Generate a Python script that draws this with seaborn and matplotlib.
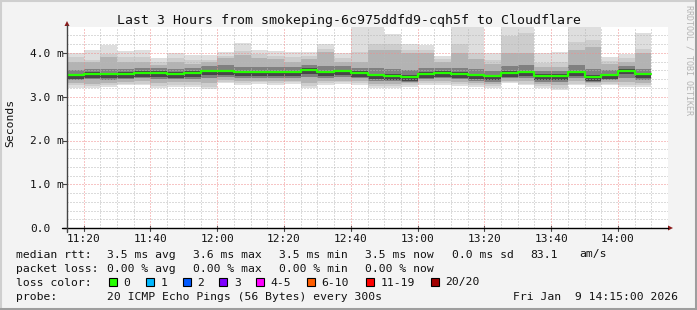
import numpy as np
import pandas as pd
import matplotlib
matplotlib.use("Agg")
import matplotlib.pyplot as plt
import seaborn as sns
from matplotlib import transforms
from matplotlib.lines import Line2D
from matplotlib.patches import Rectangle, Polygon

# ---------------- data (ms) ----------------
bucket_start = ["11:15", "11:20", "11:25", "11:30", "11:35", "11:40", "11:45", "11:50", "11:55",
                "12:00", "12:05", "12:10", "12:15", "12:20", "12:25", "12:30", "12:35", "12:40",
                "12:45", "12:50", "12:55", "13:00", "13:05", "13:10", "13:15", "13:20", "13:25",
                "13:30", "13:35", "13:40", "13:45", "13:50", "13:55", "14:00", "14:05"]
median = [3.50, 3.53, 3.51, 3.53, 3.55, 3.55, 3.53, 3.55, 3.59, 3.59, 3.57, 3.57, 3.57, 3.56, 3.62,
          3.57, 3.59, 3.55, 3.50, 3.48, 3.46, 3.53, 3.55, 3.53, 3.50, 3.47, 3.55, 3.57, 3.48, 3.48,
          3.57, 3.46, 3.50, 3.60, 3.51]
ping_max = [3.99, 4.07, 4.19, 4.05, 4.07, 3.88, 3.99, 3.95, 3.95, 4.02, 4.22, 4.08, 4.05, 4.03, 4.02,
            4.20, 4.01, 4.60, 4.60, 4.43, 4.20, 4.18, 3.93, 4.60, 4.60, 3.99, 4.60, 4.60, 3.99, 4.02,
            4.60, 4.60, 3.92, 3.97, 4.45]
ping_p90 = [3.90, 3.85, 3.97, 3.92, 3.90, 3.80, 3.88, 3.85, 3.85, 3.93, 4.05, 3.97, 3.93, 3.90, 3.93,
            4.10, 3.88, 4.03, 4.20, 4.20, 4.08, 4.08, 3.87, 4.20, 4.00, 3.85, 4.40, 4.45, 3.78, 3.80,
            4.25, 4.30, 3.82, 3.88, 4.10]
ping_p75 = [3.80, 3.80, 3.92, 3.80, 3.80, 3.73, 3.80, 3.76, 3.80, 3.88, 3.95, 3.88, 3.86, 3.80, 3.86,
            4.03, 3.80, 3.80, 4.07, 4.07, 3.99, 3.99, 3.80, 3.99, 3.86, 3.76, 3.99, 3.99, 3.69, 3.69,
            4.07, 4.14, 3.76, 3.80, 3.99]
ping_p60 = [3.62, 3.64, 3.63, 3.64, 3.66, 3.65, 3.64, 3.65, 3.70, 3.72, 3.69, 3.69, 3.68, 3.67, 3.72,
            3.70, 3.70, 3.66, 3.66, 3.64, 3.62, 3.66, 3.66, 3.66, 3.64, 3.60, 3.70, 3.73, 3.58, 3.60,
            3.72, 3.64, 3.62, 3.70, 3.64]
ping_p55 = [3.53, 3.56, 3.54, 3.56, 3.58, 3.58, 3.56, 3.58, 3.62, 3.62, 3.60, 3.60, 3.60, 3.59, 3.65,
            3.60, 3.62, 3.58, 3.53, 3.51, 3.49, 3.56, 3.58, 3.56, 3.53, 3.50, 3.58, 3.60, 3.51, 3.51,
            3.60, 3.49, 3.53, 3.63, 3.54]
ping_p45 = [3.41, 3.44, 3.42, 3.44, 3.46, 3.46, 3.44, 3.46, 3.50, 3.50, 3.48, 3.48, 3.48, 3.47, 3.53,
            3.48, 3.50, 3.46, 3.41, 3.39, 3.37, 3.44, 3.46, 3.44, 3.41, 3.38, 3.46, 3.48, 3.39, 3.39,
            3.48, 3.37, 3.41, 3.51, 3.42]
ping_p40 = [3.38, 3.40, 3.38, 3.40, 3.42, 3.40, 3.40, 3.41, 3.44, 3.45, 3.43, 3.44, 3.43, 3.43, 3.45,
            3.43, 3.45, 3.42, 3.37, 3.35, 3.34, 3.40, 3.42, 3.40, 3.37, 3.33, 3.42, 3.43, 3.34, 3.33,
            3.42, 3.34, 3.38, 3.44, 3.38]
ping_p25 = [3.32, 3.30, 3.32, 3.34, 3.35, 3.31, 3.33, 3.33, 3.31, 3.38, 3.36, 3.37, 3.36, 3.37, 3.32,
            3.36, 3.37, 3.36, 3.30, 3.30, 3.31, 3.35, 3.35, 3.33, 3.31, 3.29, 3.37, 3.35, 3.29, 3.27,
            3.35, 3.31, 3.33, 3.33, 3.32]
ping_p10 = [3.26, 3.24, 3.27, 3.30, 3.30, 3.24, 3.27, 3.27, 3.23, 3.34, 3.31, 3.33, 3.31, 3.33, 3.25,
            3.31, 3.33, 3.31, 3.24, 3.24, 3.27, 3.31, 3.31, 3.29, 3.27, 3.24, 3.34, 3.30, 3.24, 3.21,
            3.30, 3.27, 3.29, 3.28, 3.27]
ping_min = [3.21, 3.19, 3.23, 3.27, 3.27, 3.19, 3.22, 3.22, 3.18, 3.31, 3.27, 3.30, 3.27, 3.30, 3.19,
            3.27, 3.30, 3.27, 3.19, 3.19, 3.23, 3.27, 3.27, 3.25, 3.23, 3.19, 3.31, 3.26, 3.19, 3.15,
            3.26, 3.23, 3.26, 3.23, 3.23]

x_tick_labels = ["11:20", "11:40", "12:00", "12:20", "12:40", "13:00", "13:20", "13:40", "14:00"]
y_tick_values = [0, 1, 2, 3, 4]
y_tick_labels = ["0.0", "1.0 m", "2.0 m", "3.0 m", "4.0 m"]

title = "Last 3 Hours from smokeping-6c975ddfd9-cqh5f to Cloudflare"
rtt_stats = ["3.5 ms avg", "3.6 ms max", "3.5 ms min", "3.5 ms now", "0.0 ms sd", "83.1", "am/s"]
loss_stats = ["0.00 % avg", "0.00 % max", "0.00 % min", "0.00 % now"]
loss_labels = ["0", "1", "2", "3", "4-5", "6-10", "11-19", "20/20"]
loss_colors = ["#26ff00", "#00b8ff", "#0059ff", "#7e00ff", "#ff00ff", "#ff5e00", "#ff0000", "#a10000"]
probe_text = "20 ICMP Echo Pings (56 Bytes) every 300s"
date_text = "Fri Jan  9 14:15:00 2026"

# ---------------- figure ----------------
sns.set_theme(style="white")
plt.rcParams["font.family"] = ["DejaVu Sans Mono", "DejaVu Sans"]
plt.rcParams["lines.scale_dashes"] = False

W, H = 697, 310
fig = plt.figure(figsize=(W / 100, H / 100), dpi=100, facecolor="#f3f3f3")


def fx(x):
    return x / W


def fy(y):
    return 1 - y / H


X0, X1, Y0, Y1 = 67, 668, 228, 27
ax = fig.add_axes([fx(X0), fy(Y0), (X1 - X0) / W, (Y0 - Y1) / H])
ax.set_facecolor("white")
for s in ax.spines.values():
    s.set_visible(False)

t0 = pd.Timestamp("2026-01-09 11:15")
starts = np.array([(pd.Timestamp("2026-01-09 " + b) - t0).total_seconds() / 60 for b in bucket_start])
step = 5.0
edges = np.r_[starts, starts[-1] + step]
ax.set_xlim(0, 180)
ax.set_ylim(0, (Y0 - Y1) / 43.75)


def ext(a):
    a = np.asarray(a, float)
    return np.r_[a, a[-1]]


bands = [
    (ping_min, ping_max, "#dedede"),
    (ping_p10, ping_p90, "#cdcdcd"),
    (ping_p25, ping_p75, "#b3b3b3"),
    (ping_p40, ping_p60, "#808080"),
    (ping_p45, ping_p55, "#474747"),
]
for i, (lo, hi, c) in enumerate(bands):
    ax.fill_between(edges, ext(lo), ext(hi), step="post", color=c, lw=0, zorder=1 + i * 0.1)

# grid (drawn above the smoke like rrdtool)
ymax = ax.get_ylim()[1]
dot = dict(lw=0.72, dashes=(0.72, 1.44))
for v in np.arange(0.2, ymax, 0.2):
    if abs(v - round(v)) < 1e-6:
        ax.axhline(v, color="#f08c8c", zorder=3, **dot)
    else:
        ax.axhline(v, color="#b8b8b8", zorder=3, **dot)
for m in np.arange(5, 180, 5):
    if (m - 5) % 20 == 0:
        ax.axvline(m, color="#f08c8c", zorder=3, **dot)
    else:
        ax.axvline(m, color="#b8b8b8", zorder=3, **dot)

df = pd.DataFrame({"t": edges, "median": ext(median)})
sns.lineplot(data=df, x="t", y="median", drawstyle="steps-post", color="#26ff00",
             lw=1.6, ax=ax, zorder=5, legend=False)

ax.set_xticks([])
ax.set_yticks([])
ax.set_xlabel("")
ax.set_ylabel("")

# axes lines and arrows
fig.add_artist(Line2D([fx(62), fx(668)], [fy(228), fy(228)], color="black", lw=1.0))
fig.add_artist(Line2D([fx(67), fx(67)], [fy(232), fy(25)], color="#444444", lw=1.0))
fig.add_artist(Polygon([[fx(668), fy(225.5)], [fx(673), fy(228)], [fx(668), fy(230.5)]],
                       closed=True, color="#8b1a1a", lw=0))
fig.add_artist(Polygon([[fx(64.5), fy(26)], [fx(67), fy(21)], [fx(69.5), fy(26)]],
                       closed=True, color="#8b1a1a", lw=0))

# ticks
trans_xd = transforms.blended_transform_factory(ax.transData, fig.transFigure)
trans_yd = transforms.blended_transform_factory(fig.transFigure, ax.transData)
tick_pos = np.arange(5, 180, 20)
for p, lab in zip(tick_pos, x_tick_labels):
    ax.plot([p, p], [fy(226), fy(231)], transform=trans_xd, color="#444444", lw=0.8, clip_on=False)
    fig.text(p, fy(241.5), lab, transform=trans_xd, fontsize=8, ha="center", va="baseline",
             color="#111111")
for v, lab in zip(y_tick_values, y_tick_labels):
    ax.plot([fx(63), fx(67)], [v, v], transform=trans_yd, color="#444444", lw=0.8, clip_on=False)
    fig.text(fx(30), v, lab, transform=trans_yd, fontsize=8, ha="left",
             va="center_baseline", color="#111111")

# titles
fig.text(fx(349), fy(24), title, fontsize=9.5, ha="center", va="baseline", color="#111111")
fig.text(fx(10), fy(122.5), "Seconds", fontsize=8.2, rotation=90, ha="center", va="center",
         color="#111111")
fig.text(fx(689), fy(60), "RRDTOOL / TOBI OETIKER", fontsize=6, rotation=270, ha="center",
         va="center", color="#b4b4b4")

# legend
FS = 8.2
fig.text(fx(16), fy(257.5), "median rtt:", fontsize=FS, va="baseline", color="#111111")
for xp, s in zip([107.3, 193.3, 279.3, 365, 451.7, 530, 579.3], rtt_stats):
    fig.text(fx(xp), fy(257.5), s, fontsize=FS, va="baseline", color="#111111")
fig.text(fx(16), fy(271.5), "packet loss:", fontsize=FS, va="baseline", color="#111111")
for xp, s in zip([107.3, 193.3, 279.3, 365], loss_stats):
    fig.text(fx(xp), fy(271.5), s, fontsize=FS, va="baseline", color="#111111")
fig.text(fx(16), fy(285.5), "loss color:", fontsize=FS, va="baseline", color="#111111")
box_x = [108.7, 145.7, 182.7, 219.3, 256, 306.7, 365.7, 430.7]
for bx, lab, c in zip(box_x, loss_labels, loss_colors):
    fig.add_artist(Rectangle((fx(bx), fy(285.5)), 8 / W, 8 / H, facecolor=c, edgecolor="black",
                             lw=0.8))
    fig.text(fx(bx + 14.5), fy(285.5), lab, fontsize=FS, va="baseline", color="#111111")
fig.text(fx(16), fy(299.5), "probe:", fontsize=FS, va="baseline", color="#111111")
fig.text(fx(107.3), fy(299.5), probe_text, fontsize=FS, va="baseline", color="#111111")
fig.text(fx(513.3), fy(299.5), date_text, fontsize=FS, va="baseline", color="#111111")

# frame (3D look)
fig.add_artist(Line2D([0, 1], [fy(0.5), fy(0.5)], color="#cfcfcf", lw=1.5))
fig.add_artist(Line2D([fx(0.5), fx(0.5)], [0, 1], color="#cfcfcf", lw=1.5))
fig.add_artist(Line2D([0, 1], [fy(308.5), fy(308.5)], color="#9e9e9e", lw=2.2))
fig.add_artist(Line2D([fx(696), fx(696)], [0, 1], color="#9e9e9e", lw=2.2))

fig.savefig("out.png", dpi=100, facecolor=fig.get_facecolor())
